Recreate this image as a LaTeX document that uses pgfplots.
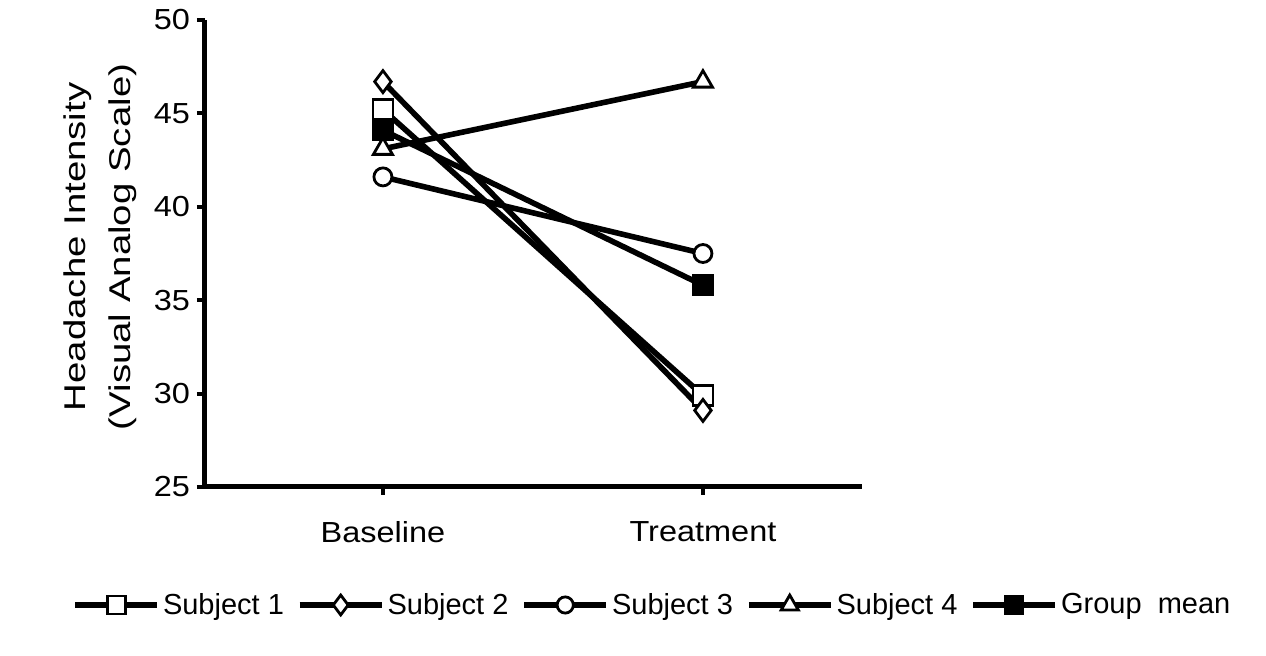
\documentclass[border=0pt]{standalone}
\usepackage{fontspec}
\setmainfont{Liberation Sans}
\newfontfamily\tickfont[FakeStretch=1.12]{Liberation Sans}
\newfontfamily\labfont[FakeStretch=1.28]{Liberation Sans}
\usepackage{pgfplots}
\pgfplotsset{compat=1.18}
\begin{document}
\begin{tikzpicture}
\begin{axis}[name=ax, scale only axis, width=328.5pt, height=233.5pt,
 xmin=-0.556, xmax=1.497, ymin=25, ymax=50,
 axis x line=bottom, axis y line=left, axis line style={-, line width=2.5pt},
 xtick={0,1}, xticklabels={Baseline,Treatment},
 ytick={25,30,...,50},
 tick align=outside, major tick length=4pt, tick style={line width=2pt, black},
 /pgf/number format/assume math mode=true,
 ticklabel style={font=\tickfont\fontsize{14.5}{17}\selectfont},
 xticklabel style={yshift=-9.5pt},
 ylabel={Headache Intensity\\(Visual Analog Scale)},
 ylabel style={align=center, font=\labfont\fontsize{15}{22.5}\selectfont, at={(axis description cs:-0.16,0.514)}, anchor=center},
 legend columns=5,
 legend style={draw=none, inner sep=0pt, at={(-0.2024,-0.2527)}, anchor=west, font=\fontsize{14.5}{17}\selectfont, nodes={inner xsep=1.5pt}, /tikz/every even column/.append style={column sep=5pt}},
 legend image code/.code={\draw[mark repeat=2, mark phase=2, every mark/.append style={scale=0.9}] plot coordinates {(0pt,0pt)(20.5pt,0pt)(41pt,0pt)};},
 every axis plot/.append style={line width=2.8pt, black},
 clip=false,
]
% Group mean drawn first (underneath)
\addplot[mark=square*, mark size=5pt, mark options={fill=black, solid, line width=1pt}, forget plot] coordinates {(0,44.1) (1,35.8)};
\addplot[mark=square*, mark size=5pt, mark options={fill=white, solid, line width=1.4pt}] coordinates {(0,45.2) (1,29.9)};
\addlegendentry{Subject 1}
\addplot[mark=diamond*, mark size=5.5pt, mark options={fill=white, solid, line width=1.4pt}] coordinates {(0,46.7) (1,29.1)};
\addlegendentry{Subject 2}
\addplot[mark=*, mark size=4.5pt, mark options={fill=white, solid, line width=1.4pt}] coordinates {(0,41.6) (1,37.5)};
\addlegendentry{Subject 3}
\addplot[mark=triangle*, mark size=5.5pt, mark options={fill=white, solid, line width=1.4pt}] coordinates {(0,43.1) (1,46.7)};
\addlegendentry{Subject 4}
\addlegendimage{line width=2.8pt, black, mark=square*, mark size=5pt, mark options={fill=black, solid, line width=1pt}}
\addlegendentry{Group\ \ mean}
\end{axis}
\path (ax.south west) ++(-102.5pt,-84.5pt) rectangle ([xshift=202pt,yshift=10pt]ax.north east);
\end{tikzpicture}
\end{document}
